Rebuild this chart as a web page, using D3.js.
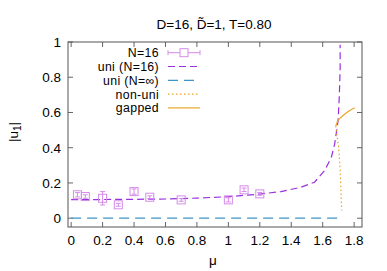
<!DOCTYPE html>
<html><head><meta charset="utf-8">
<script src="https://cdn.jsdelivr.net/npm/d3@7"></script>
<style>body{margin:0;background:#fff}svg{display:block}text{font-family:"Liberation Sans",Arial,sans-serif}</style>
</head><body>
<svg id="c" width="387" height="271"></svg>
<script>
// N=16 simulation points
const muPts = [0.04, 0.09, 0.2, 0.3, 0.4, 0.5, 0.7, 1.0, 1.1, 1.2];
const uPts = [0.133, 0.123, 0.113, 0.076, 0.151, 0.119, 0.104, 0.104, 0.161, 0.138];
const uErr = [0.012, 0.010, 0.038, 0.008, 0.015, 0.008, 0.008, 0.012, 0.010, 0.008];
// uni (N=16)
const muUni = [0, 0.2, 0.4, 0.6, 0.8, 1.0, 1.2, 1.335, 1.463, 1.548, 1.612, 1.655, 1.676, 1.698, 1.706, 1.711, 1.711];
const uUni = [0.105, 0.106, 0.107, 0.109, 0.114, 0.122, 0.137, 0.151, 0.176, 0.204, 0.27, 0.346, 0.42, 0.553, 0.70, 0.85, 0.985];
// uni (N=inf)
const muInf = [0, 1.719];
const uInf = [0, 0];
// non-uni
const muNon = [1.683, 1.692, 1.702, 1.711, 1.716, 1.721];
const uNon = [0.524, 0.46, 0.40, 0.27, 0.16, 0.044];
// gapped
const muGap = [1.683, 1.698, 1.719, 1.762, 1.804];
const uGap = [0.524, 0.555, 0.574, 0.606, 0.627];
const xTicks = [0, 0.2, 0.4, 0.6, 0.8, 1, 1.2, 1.4, 1.6, 1.8];
const yTicks = [0, 0.2, 0.4, 0.6, 0.8, 1];
const legendLabels = ["N=16", "uni (N=16)", "uni (N=\u221E)", "non-uni", "gapped"];

const svg = d3.select("#c");
const L = 68, R = 362, T = 42, B = 227;
const x = d3.scaleLinear().domain([-0.02, 1.85]).range([L, R]);
const y = d3.scaleLinear().domain([-0.05, 1]).range([B, T]);
const cPt = "#d58ce8", cUni = "#9a2fe0", cInf = "#3d94c8", cOr = "#eba52a";
const tl = 5;
const fs = 13.5;

// ticks
const g = svg.append("g");
xTicks.forEach(v => {
  g.append("line").attr("x1", x(v)).attr("x2", x(v)).attr("y1", B).attr("y2", B - tl).attr("stroke", "#666");
  g.append("line").attr("x1", x(v)).attr("x2", x(v)).attr("y1", T).attr("y2", T + tl).attr("stroke", "#666");
  g.append("text").attr("x", x(v)).attr("y", 245).attr("text-anchor", "middle").attr("font-size", fs).text(d3.format("~g")(v));
});
yTicks.forEach(v => {
  g.append("line").attr("x1", L).attr("x2", L + tl).attr("y1", y(v)).attr("y2", y(v)).attr("stroke", "#666");
  g.append("line").attr("x1", R).attr("x2", R - tl).attr("y1", y(v)).attr("y2", y(v)).attr("stroke", "#666");
  g.append("text").attr("x", 61).attr("y", y(v) + 5).attr("text-anchor", "end").attr("font-size", fs).text(d3.format("~g")(v));
});

const line = d3.line().x(d => x(d[0])).y(d => y(d[1]));
const zip = (a, b) => a.map((v, i) => [v, b[i]]);

svg.append("path").attr("d", line(zip(muInf, uInf))).attr("fill", "none").attr("stroke", cInf).attr("stroke-width", 1.2).attr("stroke-dasharray", "10,6");
svg.append("path").attr("d", line(zip(muUni, uUni))).attr("fill", "none").attr("stroke", cUni).attr("stroke-width", 1.2).attr("stroke-dasharray", "7,4");
svg.append("path").attr("d", line(zip(muNon, uNon))).attr("fill", "none").attr("stroke", cOr).attr("stroke-width", 1.2).attr("stroke-dasharray", "1.5,2.5");
svg.append("path").attr("d", d3.line().curve(d3.curveMonotoneX).x(d => x(d[0])).y(d => y(d[1]))(zip(muGap, uGap))).attr("fill", "none").attr("stroke", cOr).attr("stroke-width", 1.2);

// points
const pg = svg.append("g").attr("stroke", cPt).attr("fill", "none").attr("stroke-width", 1);
muPts.forEach((m, i) => {
  const cx = x(m), cy = y(uPts[i]);
  const y1 = y(uPts[i] + uErr[i]), y2 = y(uPts[i] - uErr[i]);
  pg.append("line").attr("x1", cx).attr("x2", cx).attr("y1", y1).attr("y2", y2);
  pg.append("line").attr("x1", cx - 2.5).attr("x2", cx + 2.5).attr("y1", y1).attr("y2", y1);
  pg.append("line").attr("x1", cx - 2.5).attr("x2", cx + 2.5).attr("y1", y2).attr("y2", y2);
  pg.append("rect").attr("x", cx - 4).attr("y", cy - 4).attr("width", 8).attr("height", 8);
});

// frame
svg.append("rect").attr("x", L).attr("y", T).attr("width", R - L).attr("height", B - T).attr("fill", "none").attr("stroke", "#555").attr("stroke-width", 1);

// legend
const lx1 = 168, lx2 = 200;
legendLabels.forEach((lab, i) => {
  const ly = 52.7 + i * 13.8;
  svg.append("text").attr("x", 159).attr("y", ly + 4.5).attr("text-anchor", "end").attr("font-size", 12.3).attr("letter-spacing", 0.35).text(lab);
  if (i === 0) {
    const lg = svg.append("g").attr("stroke", cPt).attr("fill", "none");
    lg.append("line").attr("x1", lx1).attr("x2", lx2).attr("y1", ly).attr("y2", ly);
    lg.append("line").attr("x1", lx1).attr("x2", lx1).attr("y1", ly - 2.5).attr("y2", ly + 2.5);
    lg.append("line").attr("x1", lx2).attr("x2", lx2).attr("y1", ly - 2.5).attr("y2", ly + 2.5);
    lg.append("rect").attr("x", (lx1 + lx2) / 2 - 4).attr("y", ly - 4).attr("width", 8).attr("height", 8).attr("fill", "#fff");
  } else {
    const st = [null, [cUni, "7,4"], [cInf, "10,6"], [cOr, "1.5,2.5"], [cOr, null]][i];
    svg.append("line").attr("x1", lx1).attr("x2", lx2).attr("y1", ly).attr("y2", ly).attr("stroke", st[0]).attr("stroke-width", 1.2).attr("stroke-dasharray", st[1]);
  }
});

// title
const tt = svg.append("text").attr("x", 214).attr("y", 29).attr("text-anchor", "middle").attr("font-size", fs);
tt.append("tspan").text("D=16, D\u0303=1, T=0.80");

// axis labels
svg.append("text").attr("x", 213).attr("y", 265).attr("text-anchor", "middle").attr("font-size", fs).text("\u03BC");
const yl = svg.append("text").attr("transform", "translate(18,132) rotate(-90)").attr("text-anchor", "middle").attr("font-size", fs);
yl.append("tspan").text("|u");
yl.append("tspan").attr("font-size", 10).attr("dy", 3).text("1");
yl.append("tspan").attr("dy", -3).text("|");
</script>
</body></html>
